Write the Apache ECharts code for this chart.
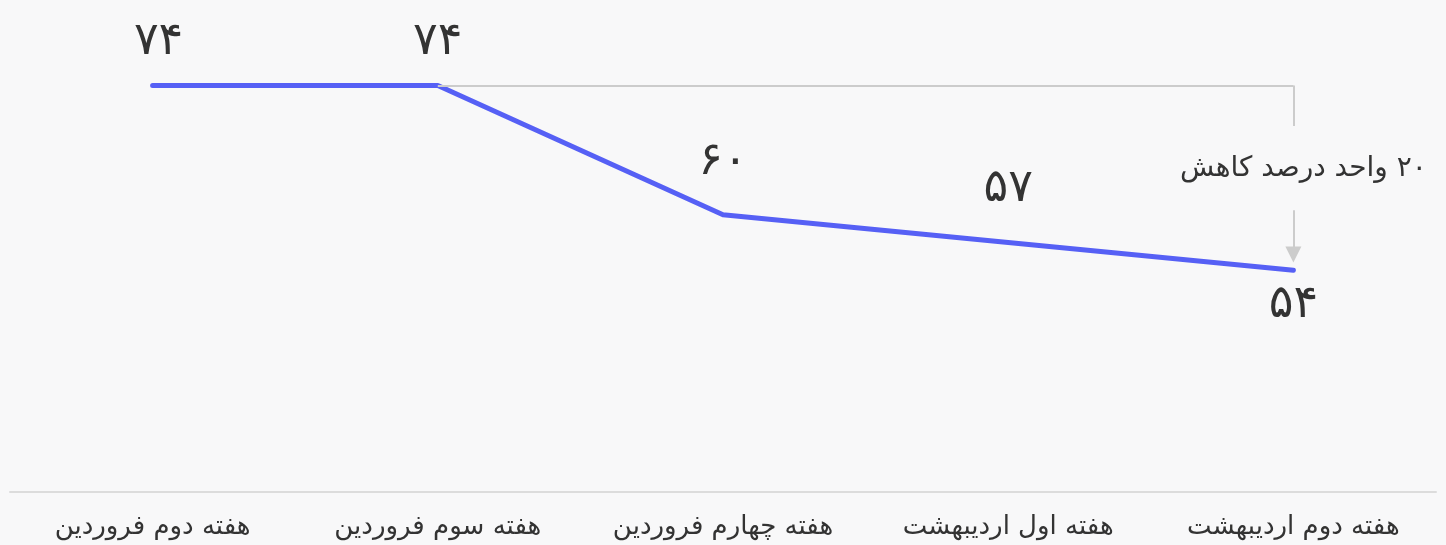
<!DOCTYPE html>
<html>
<head>
<meta charset="utf-8">
<script src="https://cdn.jsdelivr.net/npm/echarts@6/dist/echarts.min.js"></script>
<style>
  html, body { margin: 0; padding: 0; background: #f8f8f9; }
  #chart { width: 1446px; height: 545px; }
</style>
</head>
<body>
<div id="chart"></div>
<script>
const weeks = [
  "هفته دوم فروردین",
  "هفته سوم فروردین",
  "هفته چهارم فروردین",
  "هفته اول اردیبهشت",
  "هفته دوم اردیبهشت"
];
const values = [74, 74, 60, 57, 54];
const labelTexts = ["۷۴", "۷۴", "۶۰", "۵۷", "۵۴"];
// RLM so the digits sit on the right like in rtl text
const noteText = "\u200F۲۰ واحد درصد کاهش";

const fontFamily = "DejaVu Sans, Noto Sans, sans-serif";
const chart = echarts.init(document.getElementById("chart"));

// label placement per point
const labelPos = ["top", "top", "top", "top", "bottom"];
const labelDist = [20, 20, 30, 30, 12];

const option = {
  backgroundColor: "#f8f8f9",
  animation: false,
  grid: { left: 10, right: 10, top: 30, bottom: 53 },
  xAxis: {
    type: "category",
    data: weeks,
    boundaryGap: true,
    axisLine: { lineStyle: { color: "#dcdcdc", width: 2 } },
    axisTick: { show: false },
    axisLabel: {
      interval: 0,
      hideOverlap: false,
      color: "#333",
      fontSize: 26,
      margin: 22,
      fontFamily: fontFamily
    }
  },
  yAxis: {
    type: "value",
    min: 30,
    max: 80,
    show: false,
    splitLine: { show: false }
  },
  series: [
    {
      type: "line",
      data: values.map((v, i) => ({
        value: v,
        label: {
          show: true,
          position: labelPos[i],
          distance: labelDist[i],
          offset: i === 0 ? [6, 0] : [0, 0],
          formatter: () => labelTexts[i],
          color: "#333",
          fontSize: 46,
          fontFamily: fontFamily
        }
      })),
      showSymbol: true,
      symbol: "circle",
      symbolSize: 0,
      itemStyle: { color: "#5660f5" },
      lineStyle: { color: "#5660f5", width: 5, cap: "round", join: "round" },
      z: 3,
      markLine: {
        silent: true,
        symbol: "none",
        label: { show: false },
        lineStyle: { color: "#cccccc", width: 2, type: "solid" },
        data: [
          [{ coord: [weeks[1], values[1]] }, { coord: [weeks[4], values[1]] }],
          [{ coord: [weeks[4], values[1]] }, { coord: [weeks[4], 69.6] }],
          [
            { coord: [weeks[4], 60.5], symbol: "none" },
            { coord: [weeks[4], 55.7], symbol: "triangle", symbolSize: [16, 16], symbolRotate: 180 }
          ]
        ]
      },
      markPoint: {
        silent: true,
        symbol: "circle",
        symbolSize: 0,
        data: [{ coord: [weeks[4], 65] }],
        label: {
          show: true,
          position: "inside",
          offset: [10, 0],
          formatter: noteText,
          color: "#333",
          fontSize: 28,
          fontFamily: fontFamily
        }
      }
    }
  ]
};
chart.setOption(option);
</script>
</body>
</html>
